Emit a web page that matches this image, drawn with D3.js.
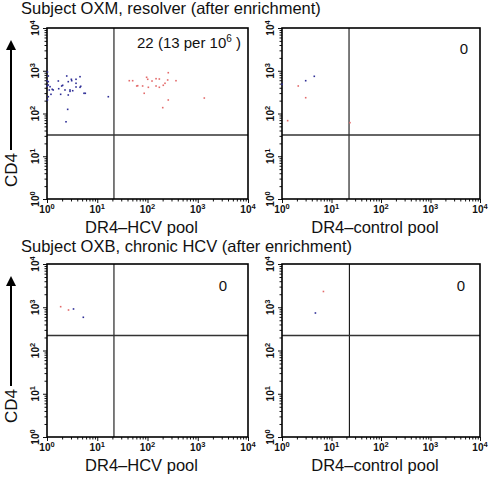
<!DOCTYPE html>
<html><head><meta charset="utf-8">
<script src="https://cdn.jsdelivr.net/npm/d3@7"></script>
<style>body{margin:0;background:#fff}svg text{font-family:"Liberation Sans",Arial,sans-serif;fill:#111}</style>
</head><body><svg id="c" width="490" height="477"></svg>
<script>
// ---------- data ----------
const decadeTicks = [1, 10, 100, 1000, 10000];
const tickExponents = ["0", "1", "2", "3", "4"];
const rowTitles = ["Subject OXM, resolver (after enrichment)", "Subject OXB, chronic HCV (after enrichment)"];
const xAxisLabels = ["DR4\u2013HCV pool", "DR4\u2013control pool", "DR4\u2013HCV pool", "DR4\u2013control pool"];
const yAxisLabel = "CD4";
const countMain = ["22 (13 per 10", "0", "0", "0"];
const countSup = ["6", "", "", ""];
const countTail = [" )", "", "", ""];
const gateX = [21.5, 22.6, 21.5, 23];
const gateY = [31.4, 31.4, 222, 222];

// panel 1 (OXM, DR4-HCV): tetramer-negative (blue) events
const p1BlueX = [1.06,1.06,1.06,1.15,1.11,1.68,1.96,1.27,1.20,2.47,2.65,3.10,4.54,3.78,2.87,2.28,4.54,5.45,2.65,1.87,2.58,16.6,2.39,1.06,1.33,3.25,3.05,3.78,2.05,1.71,2.87,1.01,1.01,5.78,3.78,4.69,1.02,1.02];
const p1BlueY = [754,555,464,424,355,576,440,368,281,754,555,585,726,509,355,355,410,297,271,281,125,247,64,247,355,341,631,631,457,380,330,585,440,297,417,433,935,207];
// panel 1: tetramer-positive (red) events
const p1RedX = [43.4,50.7,63.8,101,148,172,252,369,61,80,104,148,172,206,223,86,259,259,201,1350,96,123];
const p1RedY = [585,585,447,631,652,641,608,585,440,440,410,440,410,457,509,297,900,207,137,230,703,575];
// panel 2 (OXM, DR4-control)
const p2X = [4.49,3.01,2.13,3.01,1.30,23.6,1.0];
const p2Y = [741,585,440,234,68,61,482];
const p2C = ["b","b","r","r","r","r","b"];
// panel 3 (OXB, DR4-HCV)
const p3X = [1.87,2.68,3.37,5.28];
const p3Y = [1030,864,912,586];
const p3C = ["r","r","b","b"];
// panel 4 (OXB, DR4-control)
const p4X = [6.87,4.73];
const p4Y = [2313,736];
const p4C = ["r","b"];

// ---------- layout ----------
const panels = [
  {x0:47, x1:248, y0:28, y1:199},
  {x0:282, x1:480, y0:28, y1:199},
  {x0:47, x1:248, y0:264, y1:437},
  {x0:282, x1:480, y0:264, y1:437}
];
const colors = {b:"#2e2e96", r:"#e36b6b"};
const pts = [
  p1BlueX.map((v,i)=>({x:v,y:p1BlueY[i],c:"b"})).concat(p1RedX.map((v,i)=>({x:v,y:p1RedY[i],c:"r"}))),
  p2X.map((v,i)=>({x:v,y:p2Y[i],c:p2C[i]})),
  p3X.map((v,i)=>({x:v,y:p3Y[i],c:p3C[i]})),
  p4X.map((v,i)=>({x:v,y:p4Y[i],c:p4C[i]}))
];
const countPos = [{x:241,y:48},{x:468,y:54},{x:227,y:291},{x:465,y:291}];

const svg = d3.select("#c");
svg.append("rect").attr("width",490).attr("height",477).attr("fill","#fff");

svg.append("text").attr("x",21).attr("y",14).attr("font-size",16.5).text(rowTitles[0]);
svg.append("text").attr("x",21).attr("y",252).attr("font-size",16.5).text(rowTitles[1]);

const allTicks = [];
for (let d=0; d<4; d++) for (let k=1; k<10; k++) allTicks.push(k*Math.pow(10,d));
allTicks.push(10000);

panels.forEach((p,pi)=>{
  const x = d3.scaleLog().domain([1,1e4]).range([p.x0,p.x1]);
  const y = d3.scaleLog().domain([1,1e4]).range([p.y1,p.y0]);
  const g = svg.append("g");

  // axes
  const xa = g.append("g").attr("transform",`translate(0,${p.y1})`)
    .call(d3.axisBottom(x).tickValues(allTicks).tickFormat("").tickSize(4).tickSizeOuter(0));
  const ya = g.append("g").attr("transform",`translate(${p.x0},0)`)
    .call(d3.axisLeft(y).tickValues(allTicks).tickFormat("").tickSize(4).tickSizeOuter(0));
  [xa,ya].forEach(a=>{
    a.select(".domain").remove();
    a.selectAll(".tick line").attr("stroke","#111").attr("stroke-width",1);
  });
  xa.selectAll(".tick line").filter(d=>!decadeTicks.includes(d)).attr("y2",2.5);
  ya.selectAll(".tick line").filter(d=>!decadeTicks.includes(d)).attr("x2",-2.5);

  // tick labels
  decadeTicks.forEach((t,i)=>{
    const tx = g.append("text").attr("x",x(t)).attr("y",p.y1+14).attr("text-anchor","middle")
      .attr("font-size",10).attr("font-weight","bold");
    tx.append("tspan").text("10");
    tx.append("tspan").attr("font-size",7.5).attr("dy",-4).text(tickExponents[i]);
    const ty = g.append("text").attr("transform",`translate(${p.x0-8},${y(t)}) rotate(-90)`)
      .attr("text-anchor","middle").attr("font-size",10).attr("font-weight","bold");
    ty.append("tspan").text("10");
    ty.append("tspan").attr("font-size",7.5).attr("dy",-4).text(tickExponents[i]);
  });

  // gates
  g.append("line").attr("x1",x(gateX[pi])).attr("x2",x(gateX[pi])).attr("y1",p.y0).attr("y2",p.y1)
    .attr("stroke","#111").attr("stroke-width",1.1);
  g.append("line").attr("x1",p.x0).attr("x2",p.x1).attr("y1",y(gateY[pi])).attr("y2",y(gateY[pi]))
    .attr("stroke","#333").attr("stroke-width",1.5);

  // frame
  g.append("rect").attr("x",p.x0).attr("y",p.y0).attr("width",p.x1-p.x0).attr("height",p.y1-p.y0)
    .attr("fill","none").attr("stroke","#000").attr("stroke-width",1.6);

  // events
  g.selectAll(".pt").data(pts[pi]).join("rect").attr("class","pt")
    .attr("x",d=>x(d.x)-0.8).attr("y",d=>y(d.y)-0.8).attr("width",1.6).attr("height",1.6)
    .attr("fill",d=>colors[d.c]);

  // count label
  const ct = g.append("text").attr("x",countPos[pi].x).attr("y",countPos[pi].y).attr("text-anchor","end").attr("font-size",15);
  ct.append("tspan").text(countMain[pi]);
  if (countSup[pi]) {
    ct.append("tspan").attr("font-size",10).attr("dy",-6).text(countSup[pi]);
    ct.append("tspan").attr("dy",6).text(countTail[pi]);
  }

  // x-axis label
  g.append("text").attr("x",(p.x0+p.x1)/2-6).attr("y",p.y1+34).attr("text-anchor","middle")
    .attr("font-size",16.5).text(xAxisLabels[pi]);

  // y-axis label with arrow (left column only)
  if (pi%2===0) {
    const ax = 11;
    g.append("line").attr("x1",ax).attr("x2",ax).attr("y1",p.y0+122).attr("y2",p.y0+20)
      .attr("stroke","#000").attr("stroke-width",2);
    g.append("path").attr("d",`M${ax},${p.y0+12} L${ax-5},${p.y0+22} L${ax+5},${p.y0+22} Z`).attr("fill","#000");
    g.append("text").attr("transform",`translate(${ax+6},${p.y0+142}) rotate(-90)`)
      .attr("text-anchor","middle").attr("font-size",17).text(yAxisLabel);
  }
});
</script></body></html>
